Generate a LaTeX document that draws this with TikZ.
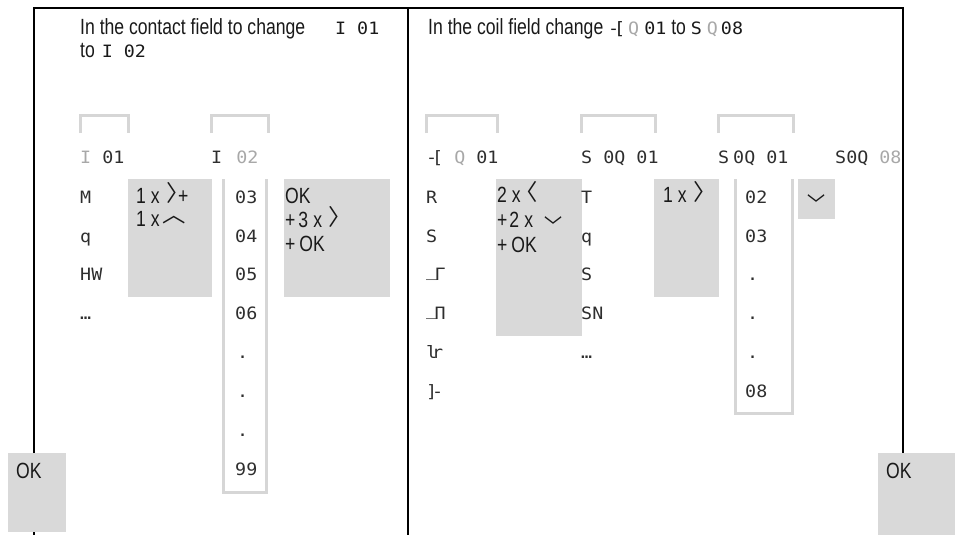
\documentclass[tikz,border=0pt]{standalone}
\usepackage{fontspec}
\usepackage{graphicx}
\setmainfont{Liberation Sans}[FakeStretch=0.8]
\newfontfamily\lcdfont{DejaVu Sans Mono}[FakeStretch=1.08]
\newfontfamily\cjk{Noto Sans CJK SC}
\usepackage{tikz}
\usetikzlibrary{positioning}
\definecolor{keygray}{HTML}{D9D9D9}
\definecolor{railgray}{HTML}{D6D6D6}
\definecolor{lcdink}{HTML}{2E2E2E}
\definecolor{lcdpale}{HTML}{A8A8A8}
% small key and display glyphs
\newcommand\cjkkey[1]{{\cjk\fontsize{18}{18}\selectfont #1}}
\newcommand\chevR{\kern4pt\raisebox{1.5pt}{\scalebox{1.3}[1.25]{\cjkkey{〉}}}\kern-17pt}
\newcommand\chevL{\kern-11pt\raisebox{1.5pt}{\scalebox{1.3}[1.25]{\cjkkey{〈}}}\kern-2pt}
\newcommand\chevU{\raisebox{4pt}{\scalebox{1.3}[1.2]{\cjkkey{︿}}}}
\newcommand\chevD{\raisebox{-7pt}{\scalebox{1}[1.2]{\cjkkey{﹀}}}}
\newcommand\lcdin[1]{{\lcdfont\fontsize{17}{17}\selectfont #1}}
\newcommand\pale[1]{{\color{lcdpale}#1}}
\newcommand\coilsym{-\kern-.3em[}
\newcommand\risesym{\raisebox{.2em}[0pt][0pt]{\_}\kern-.15emΓ}
\newcommand\pulsesym{\raisebox{.2em}[0pt][0pt]{\_}\kern-.15emΠ}
\newcommand\fallsym{l\kern-.3em r}
\newcommand\coilend{]\kern-.3em-}
\tikzset{
	hdr/.style = {anchor=base west, inner sep=0pt, text=black!90,
	  font=\fontsize{22}{24}\selectfont},
	lcd/.style = {anchor=base west, inner sep=0pt, text=lcdink,
	  font=\lcdfont\fontsize{17}{20}\selectfont},
	keybox/.style = {fill=keygray, draw=none, inner sep=0pt, anchor=north west},
	rail/.style = {draw=railgray, line width=3pt},
	frame/.style = {draw=black, line width=1.2pt},
}

\begin{document}
\begin{tikzpicture}[x=1pt, y=-1pt]
	\useasboundingbox (0,0) rectangle (955,535);
	% frame
	\draw [frame] (34,535) -- (34,8) -- (903,8) -- (903,535);
	\draw [frame] (408,8) -- (408,535);

	% contact field
	\node (hdrA) [hdr] at (80,35) {In the contact field to change \lcdin{\kern25pt I 01}};
	\node (hdrB) [hdr] at (80,58) {to \lcdin{\kern2pt I 02}};
	\draw [rail] (80,133) -- (80,115) -- (128,115) -- (128,133);
	\draw [rail] (211,133) -- (211,115) -- (268,115) -- (268,133);
	\node (i01) [lcd] at (80,163) {\pale{I} 01};
	\node (i02) [lcd] at (211,163) {I\kern3pt\ \pale{02}};
	\node (mk) [lcd] at (80,203) {M};
	\node (qk) [lcd] at (80,242) {q};
	\node (hw) [lcd] at (80,280) {HW};
	\node (moreA) [lcd] at (80,319) {…};
	\node (keyA) [keybox, minimum width=84pt, minimum height=118pt] at (128,179) {};
	\node (keyAa) [hdr] at (136,203) {1\kern5pt x\kern3pt\chevR\kern5pt+};
	\node (keyAb) [hdr] at (136,226) {1\kern5pt x\kern3pt\chevU};
	\draw [rail] (223.5,179) -- (223.5,492) -- (266.5,492) -- (266.5,179);
	\node (n03) [lcd] at (235,203) {03};
	\node (n04) [lcd] at (235,242) {04};
	\node (n05) [lcd] at (235,280) {05};
	\node (n06) [lcd] at (235,319) {06};
	\node (dotA) [lcd] at (237,358) {.};
	\node (dotB) [lcd] at (237,397) {.};
	\node (dotC) [lcd] at (237,436) {.};
	\node (n99) [lcd] at (235,475) {99};
	\node (keyB) [keybox, minimum width=106pt, minimum height=118pt] at (284,179) {};
	\node (keyBa) [hdr] at (285,203) {OK};
	\node (keyBb) [hdr] at (285,227) {+\kern3pt 3\kern5pt x\kern2pt\chevR};
	\node (keyBc) [hdr] at (285,251) {+\kern4pt OK};

	% coil field
	\node (hdrC) [hdr] at (428,35) {In the coil field change \lcdin{\coilsym\kern3pt\pale{Q}\kern5pt 01} to \lcdin{S\kern5pt\pale{Q}\kern3pt 08}};
	\draw [rail] (426,133) -- (426,115) -- (497,115) -- (497,133);
	\draw [rail] (581,133) -- (581,115) -- (655,115) -- (655,133);
	\draw [rail] (718,133) -- (718,115) -- (793,115) -- (793,133);
	\node (coilA) [lcd] at (426,163) {\coilsym\ \pale{Q} 01};
	\node (setA) [lcd] at (581,163) {S 0Q 01};
	\node (setB) [lcd] at (718,163) {S\kern4pt 0Q 01};
	\node (setC) [lcd] at (835,163) {S0Q \pale{08}};
	\node (rk) [lcd] at (426,203) {R};
	\node (sk) [lcd] at (426,242) {S};
	\node (rise) [lcd] at (426,280) {\risesym};
	\node (pulse) [lcd] at (426,319) {\pulsesym};
	\node (fall) [lcd] at (426,358) {\fallsym};
	\node (cend) [lcd] at (426,397) {\coilend};
	\node (keyC) [keybox, minimum width=86pt, minimum height=157pt] at (496,179) {};
	\node (keyCa) [hdr] at (497,202) {2\kern5pt x\kern5pt\chevL};
	\node (keyCb) [hdr] at (497,227) {+\kern2pt 2\kern5pt x\kern11pt\chevD};
	\node (keyCc) [hdr] at (497,252) {+\kern4pt OK};
	\node (tk) [lcd] at (581,203) {T};
	\node (qc) [lcd] at (581,242) {q};
	\node (sc) [lcd] at (581,280) {S};
	\node (sn) [lcd] at (581,319) {SN};
	\node (moreB) [lcd] at (581,358) {…};
	\node (keyD) [keybox, minimum width=65pt, minimum height=118pt] at (654,179) {};
	\node (keyDa) [hdr] at (663,202) {1\kern5pt x\kern3pt\chevR};
	\draw [rail] (735,179) -- (735,413) -- (792,413) -- (792,179);
	\node (m02) [lcd] at (745,203) {02};
	\node (m03) [lcd] at (745,242) {03};
	\node (dotD) [lcd] at (747,280) {.};
	\node (dotE) [lcd] at (747,319) {.};
	\node (dotF) [lcd] at (747,358) {.};
	\node (m08) [lcd] at (745,397) {08};
	\node (keyE) [keybox, minimum width=37pt, minimum height=40pt] at (798,179) {};
	\node (keyEa) [hdr] at (807,205) {\chevD};

	% OK keys
	\node (okL) [keybox, minimum width=58pt, minimum height=79pt] at (8,453) {};
	\node (okLt) [hdr] at (16,478) {OK};
	\node (okR) [keybox, minimum width=77pt, minimum height=82pt] at (878,453) {};
	\node (okRt) [hdr] at (886,478) {OK};
\end{tikzpicture}
\end{document}
